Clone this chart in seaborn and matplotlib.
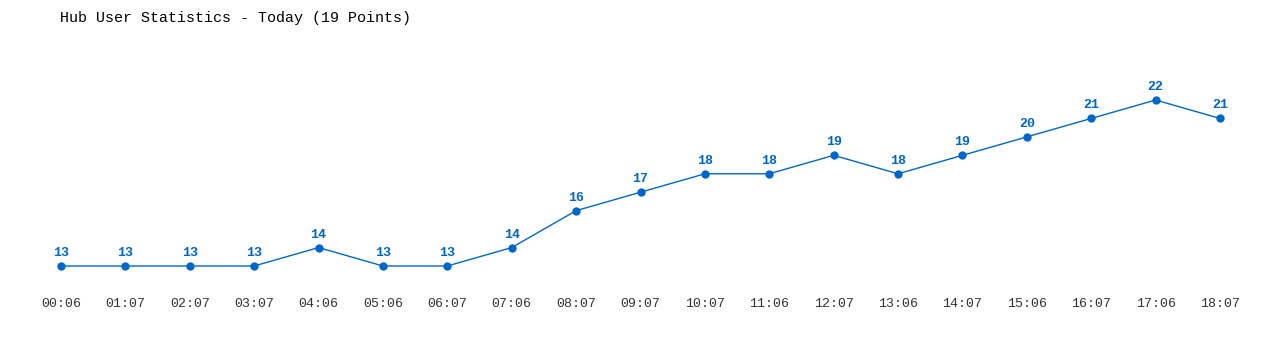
import matplotlib
matplotlib.use("Agg")
import matplotlib.pyplot as plt
import seaborn as sns
import pandas as pd

times = ["00:06", "01:07", "02:07", "03:07", "04:06", "05:06", "06:07", "07:06",
         "08:07", "09:07", "10:07", "11:06", "12:07", "13:06", "14:07", "15:06",
         "16:07", "17:06", "18:07"]
users = [13, 13, 13, 13, 14, 13, 13, 14, 16, 17, 18, 18, 19, 18, 19, 20, 21, 22, 21]

title = "Hub User Statistics - Today (19 Points)"
blue = "#0066cc"

sns.set_theme(style="white")
plt.rcParams['font.family'] = ['Liberation Mono', 'DejaVu Sans Mono']

df = pd.DataFrame({"idx": range(len(times)), "users": users})

fig = plt.figure(figsize=(12.8, 3.5), dpi=100)
ax = fig.add_axes([0, 60 / 350, 1, 290 / 350])

sns.lineplot(data=df, x="idx", y="users", ax=ax, color=blue, linewidth=1,
             marker="o", markersize=6, markeredgewidth=0)

for i, v in enumerate(users):
    ax.annotate(str(v), (i, v), xytext=(0, 5), textcoords="offset points",
                ha="center", va="bottom", color=blue, fontsize=9.5,
                fontweight="bold")

spacing = (1220 - 61) / 18
ax.set_xlim(-61 / spacing, 18 + 60 / spacing)
ppu = 166 / 9
ax.set_ylim(13 - 24 / ppu, 13 + 266 / ppu)

ax.set_xticks(range(len(times)))
ax.set_xticklabels(times, fontsize=9.5, color="#333333")
ax.tick_params(axis="x", length=0, pad=5.5)
ax.set_yticks([])
ax.set_xlabel("")
ax.set_ylabel("")
for s in ax.spines.values():
    s.set_visible(False)

fig.text(60 / 1280, 1 - 18 / 350, title, ha="left", va="center",
         fontsize=10.8, color="#000000")

fig.savefig("out.png", dpi=100)
